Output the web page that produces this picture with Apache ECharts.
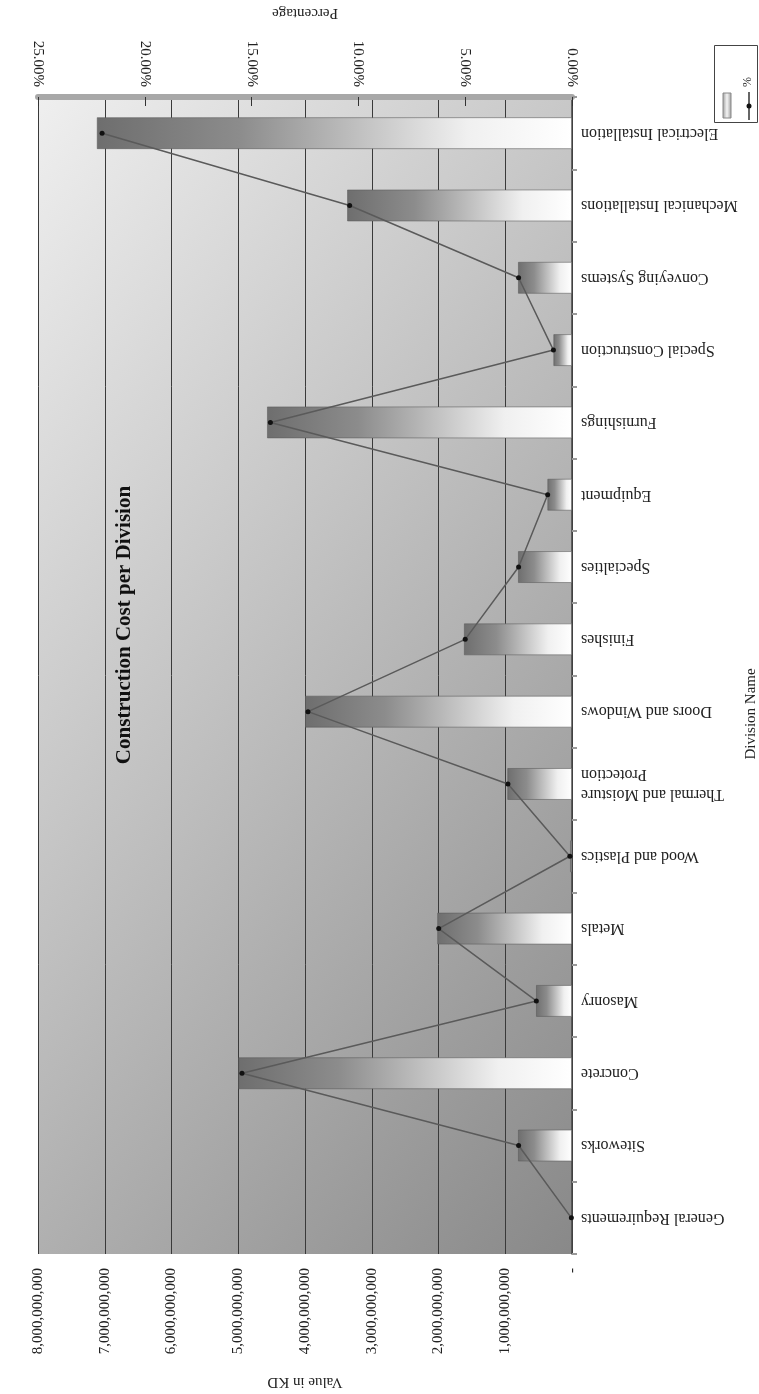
<!DOCTYPE html>
<html>
<head>
<meta charset="utf-8">
<script src="https://cdn.jsdelivr.net/npm/echarts@6/dist/echarts.min.js"></script>
<style>
html,body{margin:0;padding:0;background:#fff;}
#chart{width:759px;height:1394px;}
</style>
</head>
<body>
<div id="chart"></div>
<script>
// ---- data (bottom to top, as drawn) ----
const categories = [
  'General Requirements', 'Siteworks', 'Concrete', 'Masonry', 'Metals',
  'Wood and Plastics', 'Thermal and Moisture\nProtection', 'Doors and Windows',
  'Finishes', 'Specialties', 'Equipment', 'Furnishings', 'Special Construction',
  'Conveying Systems', 'Mechanical Installations', 'Electrical Installation'
];
const valuesKD = [
  10000000, 810000000, 5000000000, 540000000, 2020000000,
  30000000, 970000000, 4000000000, 1620000000, 810000000,
  370000000, 4570000000, 280000000, 810000000, 3370000000, 7120000000
];
const percentages = [
  0.03, 2.50, 15.45, 1.67, 6.24,
  0.10, 3.00, 12.36, 5.00, 2.50,
  1.14, 14.12, 0.87, 2.50, 10.41, 22.00
];
const valueAxisMax = 8000000000;
const valueAxisStep = 1000000000;
const pctAxisMax = 25;
const pctAxisStep = 5;

const SERIF = "'Liberation Serif', 'DejaVu Serif', serif";

function fmtKD(v) {
  if (v === 0) return '-';
  return Math.round(v).toString().replace(/\B(?=(\d{3})+(?!\d))/g, ',');
}

const chart = echarts.init(document.getElementById('chart'), null, {renderer: 'canvas'});

const barGradient = {
  type: 'linear', x: 0, y: 0, x2: 1, y2: 0,
  colorStops: [
    {offset: 0, color: '#6e6e6e'},
    {offset: 0.3, color: '#8c8c8c'},
    {offset: 0.78, color: '#f0f0f0'},
    {offset: 1, color: '#ffffff'}
  ]
};

const option = {
  animation: false,
  backgroundColor: '#ffffff',
  grid: {
    left: 38, right: 187, top: 92, bottom: 131,
    show: true,
    borderWidth: 0,
    backgroundColor: {
      type: 'linear', x: 0, y: 0, x2: 1.69, y2: 0.585,
      colorStops: [
        {offset: 0, color: '#efefef'},
        {offset: 1, color: '#888888'}
      ]
    }
  },
  xAxis: [
    {
      type: 'value', position: 'bottom', inverse: true,
      min: 0, max: valueAxisMax, interval: valueAxisStep,
      name: 'Value in KD', nameLocation: 'middle', nameGap: 120, nameRotate: 180,
      nameTextStyle: {fontFamily: SERIF, fontSize: 15, color: '#222'},
      axisLine: {show: false},
      axisTick: {show: false},
      axisLabel: {
        rotate: 90, margin: 14, fontFamily: SERIF, fontSize: 15, color: '#222',
        formatter: fmtKD
      },
      splitLine: {show: true, lineStyle: {color: '#3a3a3a', width: 1}}
    },
    {
      type: 'value', position: 'top', inverse: true,
      min: 0, max: pctAxisMax, interval: pctAxisStep,
      name: 'Percentage', nameLocation: 'middle', nameGap: 77, nameRotate: 180,
      nameTextStyle: {fontFamily: SERIF, fontSize: 15, color: '#222'},
      axisLine: {show: true, lineStyle: {color: '#a8a8a8', width: 6}},
      axisTick: {show: true, inside: true, length: 9, lineStyle: {color: '#333', width: 1}},
      axisLabel: {
        rotate: 90, margin: 10, fontFamily: SERIF, fontSize: 15, color: '#222',
        formatter: v => v.toFixed(2) + '%'
      },
      splitLine: {show: false}
    }
  ],
  yAxis: {
    type: 'category', position: 'right', data: categories,
    axisLine: {show: true, lineStyle: {color: '#444', width: 1.5}},
    axisTick: {show: true, length: 5, lineStyle: {color: '#999', width: 2}},
    axisLabel: {
      rotate: 180, margin: 9, fontFamily: SERIF, fontSize: 16, color: '#222',
      lineHeight: 20
    },
    splitLine: {show: false}
  },
  series: [
    {
      name: 'Value in KD', type: 'bar', xAxisIndex: 0, yAxisIndex: 0,
      data: valuesKD, barWidth: 32,
      itemStyle: {color: barGradient, borderColor: 'rgba(90,90,90,0.55)', borderWidth: 1}
    },
    {
      name: '%', type: 'line', xAxisIndex: 1, yAxisIndex: 0,
      data: percentages.map((p, i) => [p, categories[i]]),
      symbol: 'circle', symbolSize: 5,
      lineStyle: {color: '#5a5a5a', width: 1.5},
      itemStyle: {color: '#111'},
      z: 5
    }
  ],
  graphic: [
    {
      type: 'text', x: 125, y: 625, rotation: Math.PI / 2,
      style: {
        text: 'Construction Cost per Division',
        font: "bold 21px 'Liberation Serif', serif",
        fill: '#111', align: 'center', verticalAlign: 'middle',
        textAlign: 'center', textVerticalAlign: 'middle'
      }
    },
    {
      type: 'text', x: 751, y: 714, rotation: Math.PI / 2,
      style: {
        text: 'Division Name',
        font: "15px 'Liberation Serif', serif",
        fill: '#222', align: 'center', verticalAlign: 'middle',
        textAlign: 'center', textVerticalAlign: 'middle'
      }
    },
    {
      type: 'rect', shape: {x: 714.5, y: 45.5, width: 43, height: 77},
      style: {fill: '#ffffff', stroke: '#444', lineWidth: 1}
    },
    {
      type: 'rect', shape: {x: 723, y: 93, width: 8, height: 25},
      style: {
        fill: {
          type: 'linear', x: 0, y: 0, x2: 1, y2: 0,
          colorStops: [
            {offset: 0, color: '#9a9a9a'},
            {offset: 0.5, color: '#f4f4f4'},
            {offset: 1, color: '#9a9a9a'}
          ]
        },
        stroke: '#888', lineWidth: 1
      }
    },
    {
      type: 'line', shape: {x1: 749, y1: 92, x2: 749, y2: 120},
      style: {stroke: '#333', lineWidth: 1.5}
    },
    {
      type: 'circle', shape: {cx: 749, cy: 106, r: 2.5},
      style: {fill: '#111'}
    },
    {
      type: 'text', x: 748, y: 82, rotation: Math.PI / 2,
      style: {
        text: '%', font: "12px 'Liberation Serif', serif", fill: '#222',
        align: 'center', verticalAlign: 'middle',
        textAlign: 'center', textVerticalAlign: 'middle'
      }
    }
  ]
};

chart.setOption(option);
</script>
</body>
</html>
